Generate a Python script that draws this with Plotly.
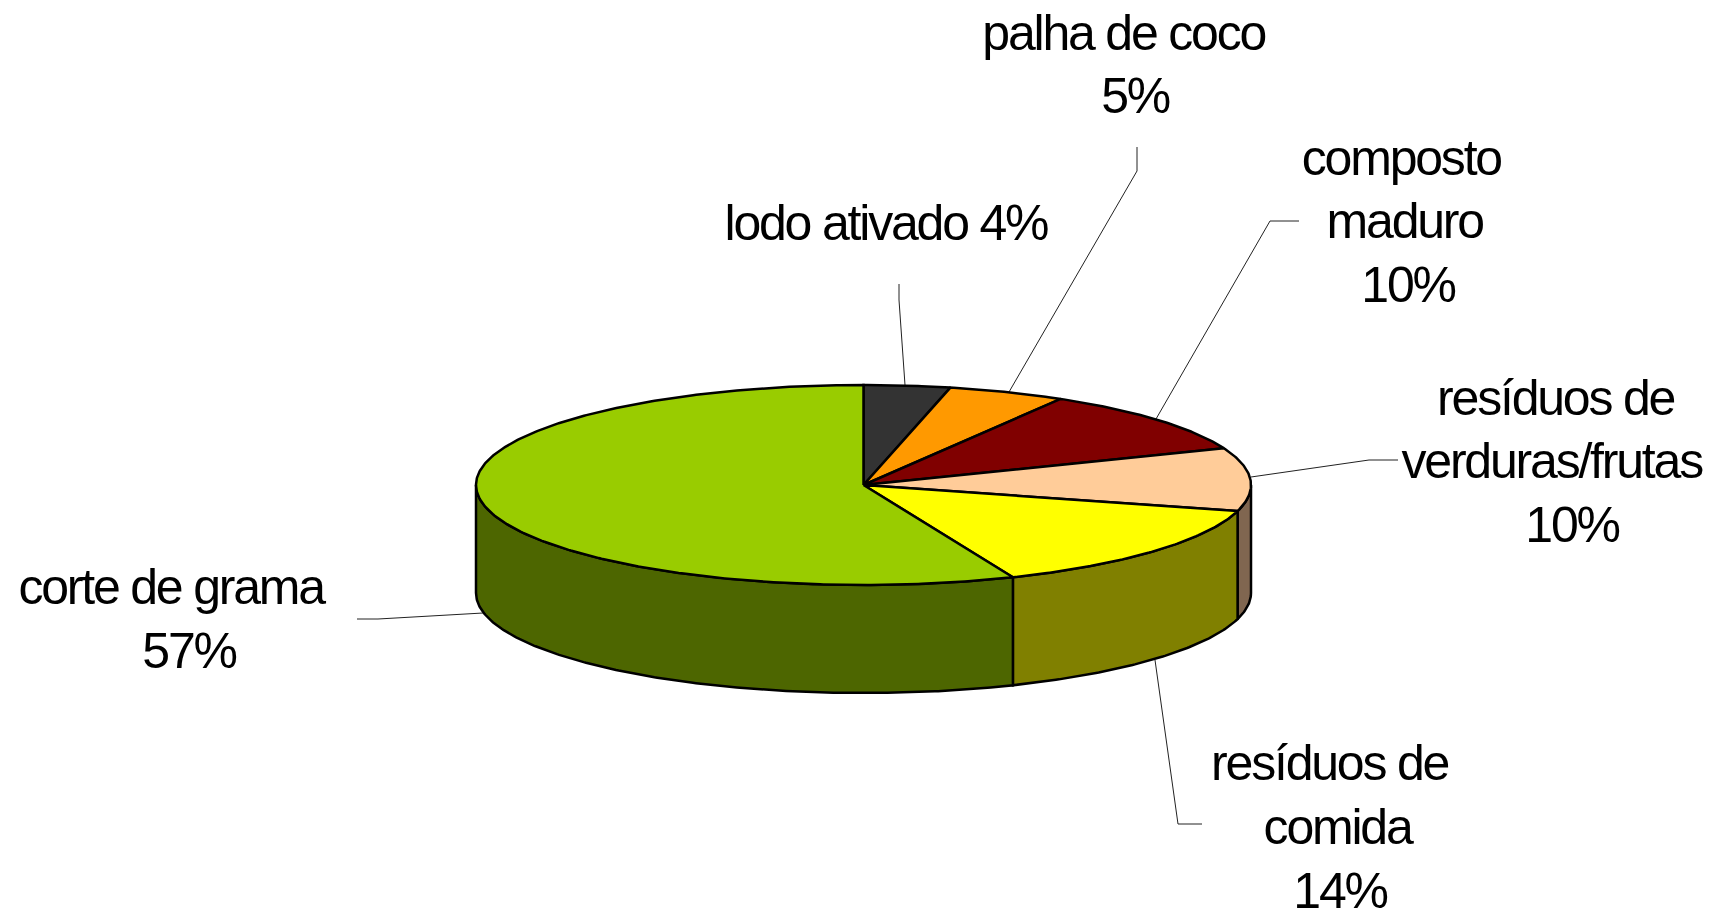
import numpy as np
import plotly.graph_objects as go

# --- data, clockwise from 12 o'clock ---
categories = ["lodo ativado", "palha de coco", "composto maduro",
              "resíduos de verduras/frutas", "resíduos de comida", "corte de grama"]
# slice shares
shares = [3.6, 4.9, 10.5, 10.2, 14.5, 56.3]
# percentages as printed on the labels
printed_pct = [4, 5, 10, 10, 14, 57]
label_lines = [["lodo ativado 4%"], ["palha de coco", "5%"], ["composto", "maduro", "10%"],
               ["resíduos de", "verduras/frutas", "10%"],
               ["resíduos de", "comida", "14%"], ["corte de grama", "57%"]]

# --- styles and layout ---
top_colors = ["#333333", "#ff9900", "#800000", "#ffcc99", "#ffff00", "#99cc00"]
side_colors = ["#1a1a1a", "#804d00", "#400000", "#806650", "#808000", "#4d6600"]
CX, CY, RX, RY, DEPTH = 863.5, 485.0, 387.5, 100.0, 108.0
FONT = dict(family="Liberation Sans, Arial, sans-serif", size=50, color="#000000")

label_pos = [
    [(886, 223)],
    [(1123, 33), (1135, 96)],
    [(1401, 158), (1405, 221), (1408, 285)],
    [(1555, 398), (1551, 461), (1572, 525)],
    [(1329, 763), (1337, 827), (1340, 891)],
    [(171, 587), (189, 651)],
]
leaders = [
    [(899, 284), (899, 300), (905, 385)],
    [(1137, 147), (1137, 171), (1009, 392)],
    [(1299, 221), (1270, 221), (1156, 419)],
    [(1398, 460), (1369, 460), (1251, 477)],
    [(1202, 824), (1178, 824), (1155, 660)],
    [(357, 619), (378, 619), (483, 613)],
]

def arc(a0, a1, dy=0.0):
    t = np.radians(np.linspace(a0, a1, max(int(abs(a1 - a0) * 2), 2)))
    return CX + RX * np.sin(t), CY + dy - RY * np.cos(t)

edges = np.concatenate([[0], np.cumsum(shares)]) / sum(shares) * 360
fig = go.Figure()

for xs, ys in [tuple(zip(*l)) for l in leaders]:
    fig.add_trace(go.Scatter(x=xs, y=ys, mode="lines",
                             line=dict(color="#222222", width=1), hoverinfo="skip"))

# visible rim: the front half of the disc only
for i in range(len(shares)):
    a0, a1 = max(edges[i], 90), min(edges[i + 1], 270)
    if a1 <= a0:
        continue
    xt, yt = arc(a0, a1)
    xb, yb = arc(a1, a0, DEPTH)
    fig.add_trace(go.Scatter(x=np.r_[xt, xb, xt[0]], y=np.r_[yt, yb, yt[0]], mode="lines",
                             fill="toself", fillcolor=side_colors[i],
                             line=dict(color="#000000", width=2.5), hoverinfo="skip"))

# top face
for i in range(len(shares)):
    xa, ya = arc(edges[i], edges[i + 1])
    fig.add_trace(go.Scatter(x=np.r_[CX, xa, CX], y=np.r_[CY, ya, CY], mode="lines",
                             fill="toself", fillcolor=top_colors[i], name=categories[i],
                             line=dict(color="#000000", width=2.5), hoverinfo="skip"))

for lines, positions in zip(label_lines, label_pos):
    for text, (x, y) in zip(lines, positions):
        fig.add_annotation(x=x, y=y, xref="x", yref="y", text=text, showarrow=False,
                           font=FONT, xanchor="center", yanchor="middle")

fig.update_layout(
    width=1715, height=914, margin=dict(l=0, r=0, t=0, b=0),
    paper_bgcolor="#ffffff", plot_bgcolor="#ffffff", showlegend=False,
    xaxis=dict(range=[0, 1715], visible=False, fixedrange=True),
    yaxis=dict(range=[914, 0], visible=False, fixedrange=True),
)

tighten = """
document.body.style.margin = '0';
document.querySelectorAll('.annotation-text').forEach(function (t) {
    t.style.letterSpacing = '-0.044em';
});
"""
fig.write_html("out.html", post_script=tighten, config={"displayModeBar": False})
